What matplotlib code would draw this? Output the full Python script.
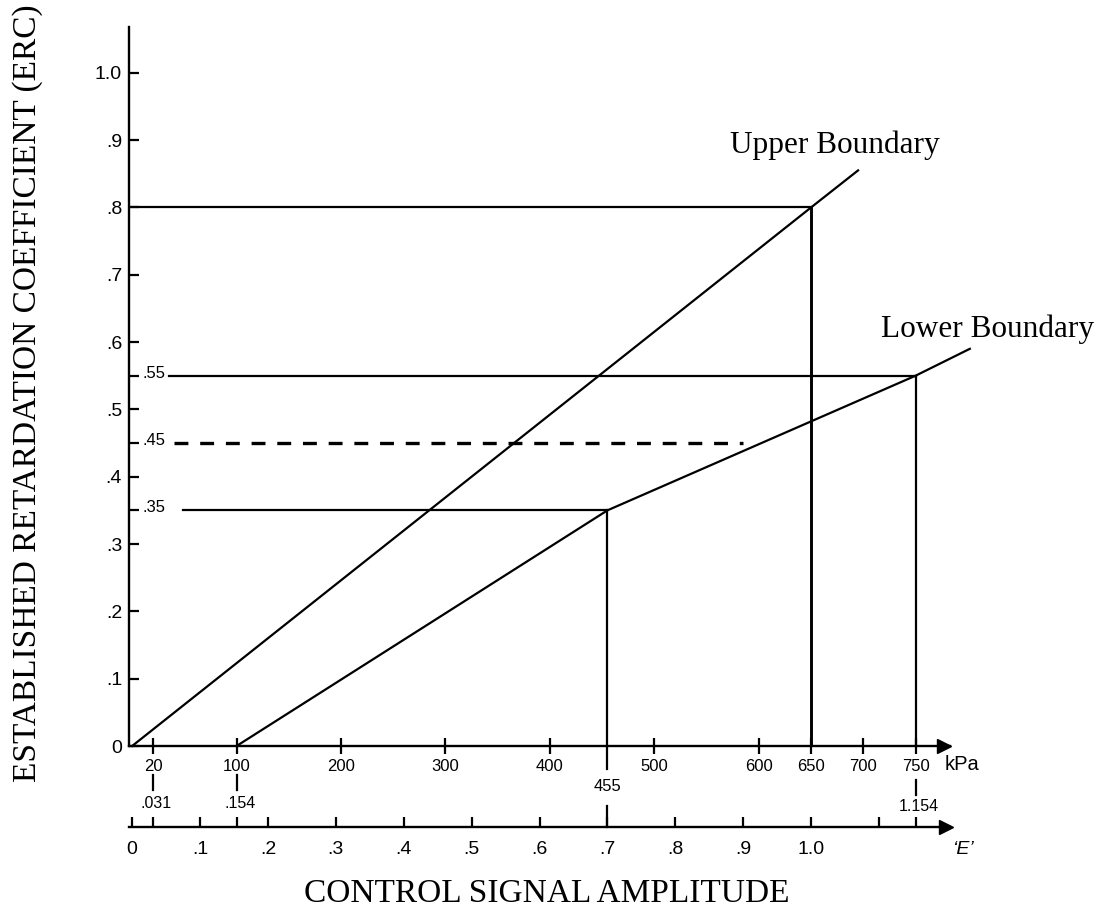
import matplotlib
matplotlib.use('Agg')
import matplotlib.pyplot as plt
import matplotlib.transforms as mtransforms

plt.rcParams['font.family'] = ['Liberation Sans', 'DejaVu Sans']
plt.rcParams['lines.scale_dashes'] = False

# ERC (vertical) axis
erc_ticks = [0, .1, .2, .3, .4, .5, .6, .7, .8, .9, 1.0]
erc_tick_labels = ['0', '.1', '.2', '.3', '.4', '.5', '.6', '.7', '.8', '.9', '1.0']
erc_minor = [.35, .45, .55]
erc_minor_labels = ['.35', '.45', '.55']

# pressure axis (kPa)
kpa_ticks = [20, 100, 200, 300, 400, 500, 600, 650, 700, 750]
kpa_tick_labels = ['20', '100', '200', '300', '400', '500', '600', '650', '700', '750']

# control signal axis, E = kPa / 650
kpa_per_e = 650
e_ticks = [0, .1, .2, .3, .4, .5, .6, .7, .8, .9, 1.0, 1.1]
e_tick_labels = ['0', '.1', '.2', '.3', '.4', '.5', '.6', '.7', '.8', '.9', '1.0', '']
link_kpa = [20, 100, 750]
link_e_labels = ['.031', '.154', '1.154']

# boundary lines
upper_kpa = [0, 650, 695]
upper_erc = [0, 0.80, 0.855]
lower_kpa = [100, 455, 750, 802]
lower_erc = [0, 0.35, 0.55, 0.59]

# reading lines
read_erc = [0.80, 0.55, 0.45, 0.35]
read_start = [-3, 35, 40, 49]
read_end = [650, 750, 585, 455]
read_dashed = [False, False, True, False]
drop_kpa = [650, 750, 455]
drop_erc = [0.80, 0.55, 0.35]

serif = ['Liberation Serif', 'DejaVu Serif']
W, H = 1110, 913
e_axis_pos = -0.1127

fig = plt.figure(figsize=(W / 100, H / 100), dpi=100)
ax = fig.add_axes([129 / W, 167 / H, 821 / W, 719 / H])
ax.set_xlim(-3, 783)
ax.set_ylim(0, 1.068)

for s in ['top', 'right']:
    ax.spines[s].set_visible(False)
for s in ['left', 'bottom']:
    ax.spines[s].set_linewidth(1.7)

ax.set_yticks(erc_ticks, erc_tick_labels)
ax.set_yticks(erc_minor, minor=True)
ax.tick_params(axis='y', which='both', direction='in', length=7, width=1.6,
               pad=5, labelsize=14)
ax.set_xticks(kpa_ticks, kpa_tick_labels)
ax.tick_params(axis='x', direction='inout', length=11, width=1.6, pad=4,
               labelsize=12)

for val, lab in zip(erc_minor, erc_minor_labels):
    ax.text(10, val + 0.004, lab, fontsize=12, ha='left', va='center')

# boundaries
ax.plot(upper_kpa, upper_erc, color='k', lw=1.6, clip_on=False)
ax.plot(lower_kpa, lower_erc, color='k', lw=1.6, clip_on=False)

# reading lines
for y, x0, x1, dashed in zip(read_erc, read_start, read_end, read_dashed):
    if dashed:
        ax.plot([x0, x1], [y, y], color='k', lw=2.4, dashes=(10, 8.5))
    else:
        ax.plot([x0, x1], [y, y], color='k', lw=1.6)
for x, y in zip(drop_kpa, drop_erc):
    ax.plot([x, x], [0, y], color='k', lw=2.1 if x == 650 else 1.6)

# arrow heads
ax.plot(0.993, 0, marker='>', ms=10, color='k', transform=ax.transAxes,
        clip_on=False)
ax.plot(0.995, e_axis_pos, marker='>', ms=10, color='k',
        transform=ax.transAxes, clip_on=False)

ax.text(0.994, -0.0264, 'kPa', transform=ax.transAxes, fontsize=14.5,
        ha='left', va='center')

# control signal axis
sec = ax.secondary_xaxis(e_axis_pos, functions=(lambda k: k / kpa_per_e,
                                                 lambda e: e * kpa_per_e))
sec.set_xticks(e_ticks, e_tick_labels)
sec.set_xticks([k / kpa_per_e for k in link_kpa], minor=True)
sec.tick_params(which='both', direction='in', length=7, width=1.6, pad=10,
                labelsize=14)
sec.spines['bottom'].set_linewidth(1.7)
ax.text(1.0025, -0.1446, '\u2018E\u2019', transform=ax.transAxes,
        fontsize=14, style='italic', ha='left', va='center')

# links between the two scales
trans = mtransforms.blended_transform_factory(ax.transData, ax.transAxes)
for k, lab in zip(link_kpa, link_e_labels):
    y0, y1, ly = (-0.0473, -0.0681, -0.0848) if k == 750 else (-0.0403, -0.0612, -0.0793)
    ax.plot([k, k], [y0, y1], color='k', lw=1.6, transform=trans, clip_on=False)
    ax.text(k + 3, ly, lab, transform=trans, fontsize=11.5, ha='center', va='center')
ax.plot([455, 455], [0, -0.032], color='k', lw=1.6, transform=trans, clip_on=False)
ax.plot([455, 455], [-0.0834, e_axis_pos], color='k', lw=1.6, transform=trans,
        clip_on=False)
ax.text(455, -0.057, '455', transform=trans, fontsize=12, ha='center', va='center')

# titles and boundary names
fig.text(28 / W, 1 - 393 / H, 'ESTABLISHED RETARDATION COEFFICIENT (ERC)',
         rotation=90, fontsize=24, family=serif, ha='center', va='center')
fig.text(547 / W, 1 - 893.5 / H, 'CONTROL SIGNAL AMPLITUDE', fontsize=24,
         family=serif, ha='center', va='center')
fig.text(834.5 / W, 1 - 153 / H, 'Upper Boundary', fontsize=22.5, family=serif,
         ha='center', va='baseline')
fig.text(987.5 / W, 1 - 337 / H, 'Lower Boundary', fontsize=22.5, family=serif,
         ha='center', va='baseline')

fig.savefig('out.png', dpi=100)
